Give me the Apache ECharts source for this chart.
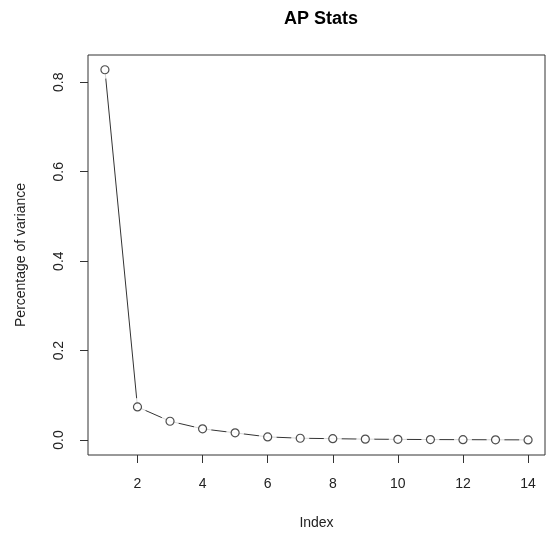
<!DOCTYPE html>
<html>
<head>
<meta charset="utf-8">
<script src="https://cdn.jsdelivr.net/npm/echarts@6/dist/echarts.min.js"></script>
<style>
  html, body { margin: 0; padding: 0; background: #fff; }
  #main { width: 547px; height: 535px; }
</style>
</head>
<body>
<div id="main"></div>
<script>
// values
const indexes = [1, 2, 3, 4, 5, 6, 7, 8, 9, 10, 11, 12, 13, 14]
const variance = [0.828, 0.074, 0.042, 0.025, 0.016, 0.007, 0.004, 0.003, 0.002, 0.0015, 0.001, 0.0008, 0.0005, 0.0003]
const xTicks = [2, 4, 6, 8, 10, 12, 14]
const yTicks = [0, 0.2, 0.4, 0.6, 0.8]

const points = indexes.map((x, i) => [x, variance[i]])
const font = 'Liberation Sans, Arial, Helvetica, sans-serif'

const myChart = echarts.init(document.getElementById('main'))

const option = {
  animation: false,
  title: {
    text: 'AP Stats',
    left: 316,
    textAlign: 'center',
    top: 5,
    textStyle: { fontFamily: font, fontSize: 18, fontWeight: 'bold', color: '#000' }
  },
  grid: {
    left: 88,
    top: 55,
    right: 2,
    bottom: 80,
    show: true,
    borderColor: '#333',
    borderWidth: 1
  },
  xAxis: {
    type: 'value',
    min: 0.48,
    max: 14.52,
    name: 'Index',
    nameLocation: 'middle',
    nameGap: 61,
    nameTextStyle: { fontFamily: font, fontSize: 14, color: '#222' },
    axisLine: { show: false, onZero: false },
    splitLine: { show: false },
    axisTick: {
      show: true,
      length: 8,
      customValues: xTicks,
      lineStyle: { color: '#333' }
    },
    axisLabel: {
      customValues: xTicks,
      margin: 22,
      fontFamily: font,
      fontSize: 14,
      color: '#222'
    }
  },
  yAxis: {
    type: 'value',
    min: -0.0335,
    max: 0.861,
    name: 'Percentage of variance',
    nameLocation: 'middle',
    nameGap: 60,
    nameRotate: 90,
    nameTextStyle: { fontFamily: font, fontSize: 14, color: '#222' },
    axisLine: { show: false, onZero: false },
    splitLine: { show: false },
    axisTick: {
      show: true,
      length: 8,
      customValues: yTicks,
      lineStyle: { color: '#333' }
    },
    axisLabel: {
      customValues: yTicks,
      rotate: 90,
      margin: 22,
      fontFamily: font,
      fontSize: 14,
      color: '#222',
      formatter: v => v.toFixed(1)
    }
  },
  series: [
    {
      type: 'line',
      data: points,
      showSymbol: false,
      z: 1,
      lineStyle: { color: '#333', width: 1 }
    },
    {
      // white halo that opens the gaps round each point
      type: 'scatter',
      data: points,
      symbol: 'circle',
      symbolSize: 18,
      z: 2,
      itemStyle: { color: '#fff' }
    },
    {
      type: 'scatter',
      data: points,
      symbol: 'circle',
      symbolSize: 8,
      z: 3,
      itemStyle: { color: '#fff', borderColor: '#222', borderWidth: 1.2 }
    }
  ]
}
myChart.setOption(option)
</script>
</body>
</html>
